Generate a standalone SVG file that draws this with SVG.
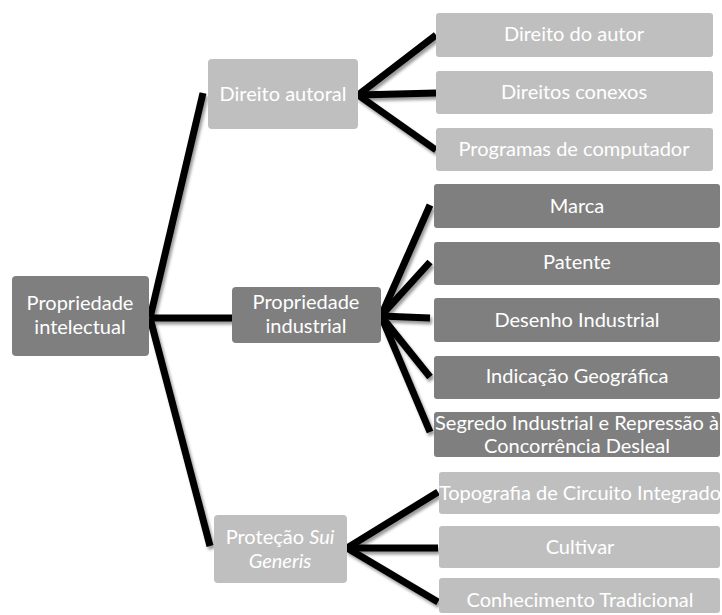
<svg xmlns="http://www.w3.org/2000/svg" width="722" height="615" viewBox="0 0 722 615">
<style>
.dark{fill:#7f7f7f}
.light{fill:#bfbfbf}
text{font-family:"Lato","Open Sans","Liberation Sans",sans-serif;font-size:20px;fill:#ffffff;text-anchor:middle}
.c line{stroke:#000;stroke-width:7;fill:none}
</style>
<defs>
<filter id="sh" x="-20%" y="-20%" width="140%" height="140%">
<feDropShadow dx="2" dy="3" stdDeviation="1.5" flood-color="#000" flood-opacity="0.4"/>
</filter>
</defs>
<rect width="722" height="615" fill="#fff"/>
<g class="c" id="connectors" filter="url(#sh)">
<line x1="150" y1="318" x2="203" y2="93"/>
<line x1="150" y1="318" x2="232" y2="318"/>
<line x1="150" y1="318" x2="210" y2="546"/>
<line x1="358" y1="95" x2="436" y2="35"/>
<line x1="358" y1="95" x2="436" y2="93"/>
<line x1="358" y1="95" x2="436" y2="150"/>
<line x1="381" y1="316" x2="430" y2="205"/>
<line x1="381" y1="316" x2="430" y2="262"/>
<line x1="381" y1="316" x2="430" y2="318"/>
<line x1="381" y1="316" x2="430" y2="377"/>
<line x1="381" y1="316" x2="430" y2="432"/>
<line x1="347" y1="548" x2="438" y2="492"/>
<line x1="347" y1="548" x2="438" y2="548"/>
<line x1="347" y1="548" x2="438" y2="602"/>
</g>
<g id="root"><rect class="dark" x="12" y="276" width="137" height="80" rx="4"/><text x="80" y="310">Propriedade</text><text x="80" y="334">intelectual</text></g>
<g id="direito-autoral"><rect class="light" x="208" y="59" width="150" height="70" rx="4"/><text x="283" y="101">Direito autoral</text></g>
<g id="direito-do-autor"><rect class="light" x="436" y="13" width="277" height="44" rx="3"/><text x="574" y="41">Direito do autor</text></g>
<g id="direitos-conexos"><rect class="light" x="436" y="71" width="277" height="43" rx="3"/><text x="574" y="99">Direitos conexos</text></g>
<g id="programas"><rect class="light" x="436" y="128" width="277" height="43" rx="3"/><text x="574" y="156">Programas de computador</text></g>
<g id="propriedade-industrial"><rect class="dark" x="232" y="287" width="149" height="56" rx="4"/><text x="306" y="309">Propriedade</text><text x="306" y="333">industrial</text></g>
<g id="marca"><rect class="dark" x="434" y="184" width="286" height="44" rx="3"/><text x="577" y="213">Marca</text></g>
<g id="patente"><rect class="dark" x="434" y="242" width="286" height="43" rx="3"/><text x="577" y="269">Patente</text></g>
<g id="desenho"><rect class="dark" x="434" y="298" width="286" height="44" rx="3"/><text x="577" y="327">Desenho Industrial</text></g>
<g id="indicacao"><rect class="dark" x="434" y="356" width="286" height="43" rx="3"/><text x="577" y="383">Indicação Geográfica</text></g>
<g id="segredo"><rect class="dark" x="434" y="412" width="286" height="45" rx="3"/><text x="577" y="430">Segredo Industrial e Repressão à</text><text x="577" y="453">Concorrência Desleal</text></g>
<g id="protecao"><rect class="light" x="214" y="515" width="133" height="68" rx="4"/><text x="280" y="544">Proteção <tspan font-style="italic">Sui</tspan></text><text x="280" y="568" font-style="italic">Generis</text></g>
<g id="topografia"><rect class="light" x="439" y="472" width="281" height="42" rx="3"/><text x="580" y="500">Topografia de Circuito Integrado</text></g>
<g id="cultivar"><rect class="light" x="439" y="526" width="281" height="42" rx="3"/><text x="580" y="554">Cultivar</text></g>
<g id="conhecimento"><rect class="light" x="439" y="578" width="281" height="35" rx="3"/><text x="580" y="607">Conhecimento Tradicional</text></g>
</svg>
